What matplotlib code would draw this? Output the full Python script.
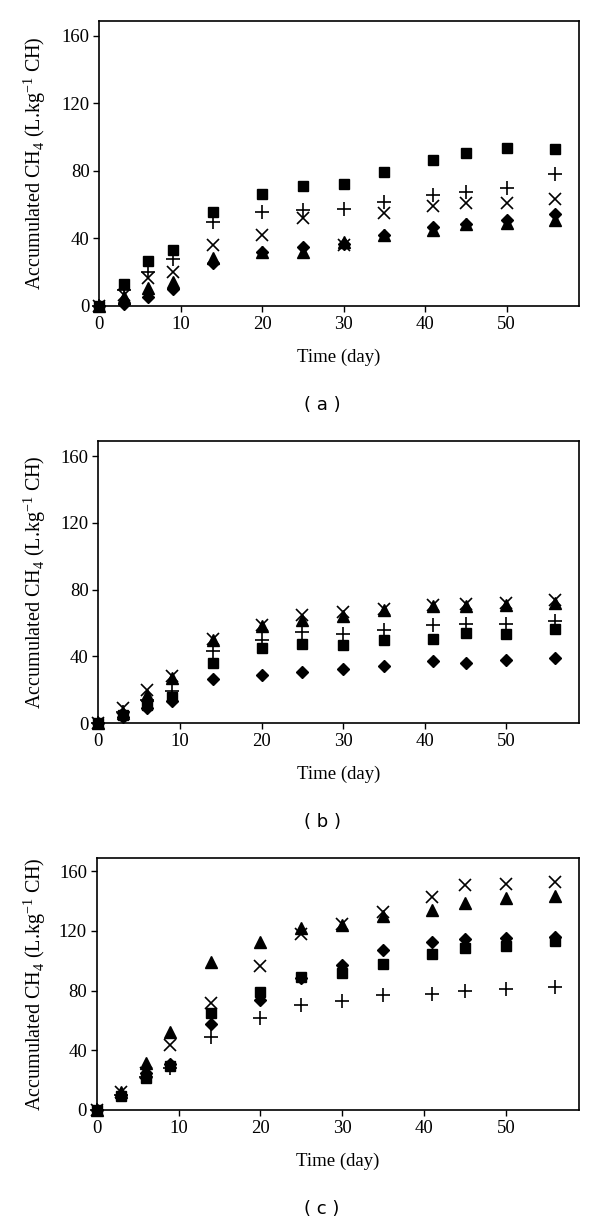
import matplotlib
matplotlib.use("Agg")
import matplotlib.pyplot as plt

plt.rcParams['font.family'] = 'Liberation Serif'
plt.rcParams['mathtext.fontset'] = 'custom'
plt.rcParams['mathtext.rm'] = 'Liberation Serif'

# sampling days
days = [0, 3, 6, 9, 14, 20, 25, 30, 35, 41, 45, 50, 56]

# panel (a)
a_square = [0, 13.0, 26.6, 33.3, 55.8, 66.4, 71.1, 72.3, 79.2, 86.5, 90.8, 93.6, 93.2]
a_plus = [0, 9.5, 20.3, 27.6, 49.8, 55.8, 56.7, 57.5, 61.5, 65.8, 67.6, 69.7, 78.4]
a_cross = [0, 6.5, 16.4, 20.3, 36.3, 41.8, 52.4, 36.1, 54.8, 59.0, 60.9, 61.3, 63.3]
a_tri = [0, 5.5, 10.4, 14.4, 28.2, 31.7, 32.1, 38.0, 42.0, 45.0, 48.5, 49.3, 50.8]
a_diam = [0, 1.2, 5.5, 10.0, 25.2, 31.7, 35.1, 37.0, 42.0, 46.9, 48.5, 50.8, 54.4]

# panel (b)
b_square = [0, 5.0, 11.0, 16.0, 36.0, 44.8, 47.2, 46.6, 50.0, 50.6, 54.0, 53.4, 56.4]
b_plus = [0, 7.0, 14.0, 19.6, 43.2, 50.0, 54.4, 53.4, 56.0, 59.0, 59.6, 59.6, 61.4]
b_cross = [0, 9.0, 20.0, 28.6, 50.6, 59.0, 64.6, 66.6, 68.6, 71.0, 71.6, 72.0, 74.0]
b_tri = [0, 6.0, 17.0, 27.0, 50.0, 58.0, 61.6, 64.0, 67.6, 70.0, 70.0, 71.0, 72.0]
b_diam = [0, 4.0, 9.0, 13.6, 26.6, 29.0, 31.0, 32.4, 34.4, 37.0, 36.0, 37.6, 39.0]

# panel (c)
c_square = [0, 9.4, 21.2, 29.4, 65.1, 79.2, 89.2, 91.5, 97.5, 104.4, 108.2, 109.8, 113.3]
c_plus = [0, 10.0, 22.3, 27.9, 49.1, 61.4, 70.3, 73.0, 77.0, 77.6, 79.9, 80.8, 82.5]
c_cross = [0, 12.3, 24.5, 43.5, 72.0, 96.6, 117.8, 124.5, 132.7, 142.8, 150.6, 151.3, 152.8]
c_tri = [0, 12.3, 31.2, 52.0, 99.3, 112.7, 121.6, 123.8, 129.8, 133.9, 138.8, 142.1, 143.2]
c_diam = [0, 10.0, 24.5, 30.8, 57.6, 73.6, 88.1, 97.0, 107.1, 112.2, 114.7, 114.9, 115.6]

panels = [
    ("( a )", a_square, a_plus, a_cross, a_tri, a_diam),
    ("( b )", b_square, b_plus, b_cross, b_tri, b_diam),
    ("( c )", c_square, c_plus, c_cross, c_tri, c_diam),
]

W, H = 600, 1224
# axes boxes in pixels: left, right, top, bottom
boxes = [(99.3, 579, 20.7, 306), (98.3, 579, 441, 723.3), (96.7, 579, 857.7, 1110)]

fig = plt.figure(figsize=(6, 12.24), dpi=100)

for (cap, sq, pl, cr, tr, di), (l, r, t, b) in zip(panels, boxes):
    ax = fig.add_axes([l / W, (H - b) / H, (r - l) / W, (b - t) / H])
    kw = dict(linestyle='none', color='black', clip_on=False)
    ax.plot(days, di, marker='D', markersize=6.5, **kw)
    ax.plot(days, sq, marker='s', markersize=7.5, **kw)
    ax.plot(days, tr, marker='^', markersize=8.5, **kw)
    ax.plot(days, cr, marker='x', markersize=8, markeredgewidth=1.2, **kw)
    ax.plot(days, pl, marker='+', markersize=9.5, markeredgewidth=1.2, **kw)

    ax.set_xlim(0, 58.9)
    ax.set_ylim(0, 169)
    ax.set_xticks([0, 10, 20, 30, 40, 50])
    ax.set_yticks([0, 40, 80, 120, 160])
    ax.tick_params(direction='out', length=4, width=1, labelsize=13.5, pad=3)
    for s in ax.spines.values():
        s.set_linewidth(1.2)

    ax.set_xlabel("Time (day)", fontsize=13.5)
    ax.xaxis.label.set_va('center')
    ax.xaxis.set_label_coords(0.5, -51 / (b - t))
    ax.set_ylabel(r"Accumulated CH$_\mathregular{4}$ (L.kg$^{\mathregular{-1}}$ CH)", fontsize=14.5)
    ax.yaxis.label.set_va('center')
    ax.yaxis.set_label_coords((35 - l) / (r - l), 0.5)

    fig.text(322 / W, 1 - (b + 99) / H, cap, family='DejaVu Sans', fontsize=13,
             ha='center', va='center')

fig.savefig("out.png", dpi=100)
